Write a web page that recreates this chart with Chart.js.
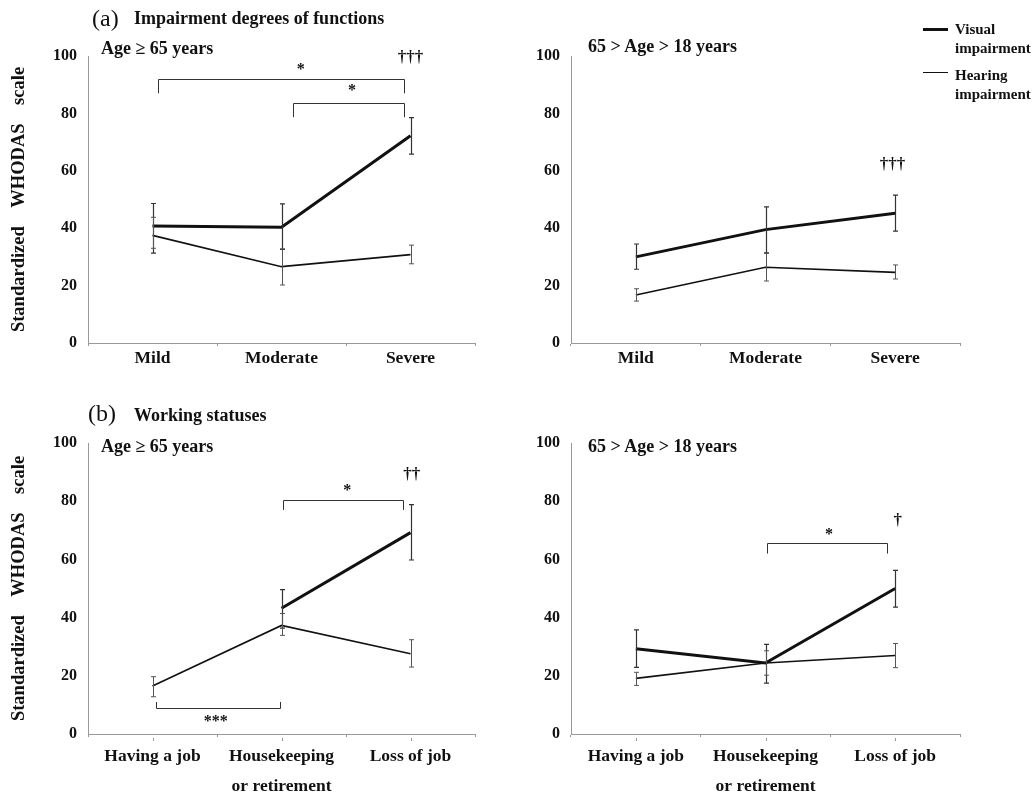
<!DOCTYPE html>
<html>
<head>
<meta charset="utf-8">
<script src="https://cdn.jsdelivr.net/npm/chart.js@4.4.1/dist/chart.umd.min.js"></script>
<style>
body { margin: 0; background: #fff; }
#wrap { position: relative; width: 1034px; height: 798px; overflow: hidden; font-family: "Liberation Serif", "Times New Roman", serif; color: #111; }
canvas { position: absolute; }
.t { position: absolute; white-space: nowrap; font-weight: bold; line-height: 1; }
.leg { position: absolute; left: 923px; width: 25px; background: #111; }
</style>
</head>
<body>
<div id="wrap">
  <canvas id="aOld" width="517" height="390" style="left:0;top:0"></canvas>
  <canvas id="aYoung" width="517" height="390" style="left:517px;top:0"></canvas>
  <canvas id="bOld" width="517" height="408" style="left:0;top:390px"></canvas>
  <canvas id="bYoung" width="517" height="408" style="left:517px;top:390px"></canvas>

  <div class="t" style="left:92px;top:6px;font-size:24px;font-weight:normal">(a)</div>
  <div class="t" style="left:134px;top:9px;font-size:18px">Impairment degrees of functions</div>
  <div class="t" style="left:101px;top:38.5px;font-size:18px">Age ≥ 65 years</div>
  <div class="t" style="left:588px;top:37px;font-size:18px">65 &gt; Age &gt; 18 years</div>

  <div class="t" style="left:88px;top:401px;font-size:24px;font-weight:normal">(b)</div>
  <div class="t" style="left:134px;top:406px;font-size:18px">Working statuses</div>
  <div class="t" style="left:101px;top:437px;font-size:18px">Age ≥ 65 years</div>
  <div class="t" style="left:588px;top:437px;font-size:18px">65 &gt; Age &gt; 18 years</div>

  <div class="leg" style="top:27.5px;height:3px"></div>
  <div class="t" style="left:955px;top:22px;font-size:15px">Visual</div>
  <div class="t" style="left:955px;top:41px;font-size:15px">impairment</div>
  <div class="leg" style="top:71.5px;height:1px"></div>
  <div class="t" style="left:955px;top:68px;font-size:15px">Hearing</div>
  <div class="t" style="left:955px;top:87px;font-size:15px">impairment</div>
</div>

<script>
const degreeLabels = ['Mild', 'Moderate', 'Severe'];
const workLabels = ['Having a job', ['Housekeeping', 'or retirement'], 'Loss of job'];

// (a) age >= 65
const aOldVisual = [40.8, 40.3, 72.2];
const aOldVisualHi = [48.6, 48.5, 78.5];
const aOldVisualLo = [31.3, 32.6, 65.8];
const aOldHearing = [37.5, 26.6, 30.8];
const aOldHearingHi = [43.8, 32.8, 34.1];
const aOldHearingLo = [33.0, 20.2, 27.6];

// (a) 65 > age > 18
const aYoungVisual = [30.0, 39.5, 45.2];
const aYoungVisualHi = [34.5, 47.4, 51.5];
const aYoungVisualLo = [25.7, 31.4, 39.0];
const aYoungHearing = [16.7, 26.4, 24.6];
const aYoungHearingHi = [18.9, 31.2, 27.2];
const aYoungHearingLo = [14.6, 21.6, 22.3];

// (b) age >= 65
const bOldVisual = [null, 43.2, 69.2];
const bOldVisualHi = [null, 49.6, 78.8];
const bOldVisualLo = [null, 36.4, 59.8];
const bOldHearing = [16.5, 37.3, 27.6];
const bOldHearingHi = [19.7, 41.4, 32.4];
const bOldHearingLo = [12.8, 33.9, 23.0];

// (b) 65 > age > 18
const bYoungVisual = [29.3, 24.4, 50.0];
const bYoungVisualHi = [35.8, 30.8, 56.2];
const bYoungVisualLo = [22.9, 17.5, 43.6];
const bYoungHearing = [19.1, 24.4, 27.0];
const bYoungHearingHi = [21.2, 28.6, 31.1];
const bYoungHearingLo = [16.7, 20.2, 22.8];

// significance marks (category index / scale value)
const aOldBrackets = [
  {from: 0.045, to: 1.95, at: 91.9, tip: 87, label: '*', lx: 1.15, ly: 95},
  {from: 1.087, to: 1.95, at: 83.6, tip: 78.7, label: '*', lx: 1.546, ly: 87.7}
];
const aOldNotes = [{text: '†††', at: 2.0, y: 99.4}];
const aYoungBrackets = [];
const aYoungNotes = [{text: '†††', at: 1.98, y: 62.3}];
const bOldBrackets = [
  {from: 1.01, to: 1.94, at: 80.4, tip: 77, label: '*', lx: 1.51, ly: 83.4},
  {from: 0.03, to: 0.99, at: 8.9, tip: 11, label: '***', lx: 0.49, ly: 4.3}
];
const bOldNotes = [{text: '††', at: 2.01, y: 89.2}];
const bYoungBrackets = [
  {from: 1.01, to: 1.94, at: 65.6, tip: 62, label: '*', lx: 1.49, ly: 68.5}
];
const bYoungNotes = [{text: '†', at: 2.02, y: 73.2}];

const FONT = '"Liberation Serif", "Times New Roman", serif';

const marksPlugin = {
  id: 'marks',
  afterDatasetsDraw(chart, args, opts) {
    const {ctx, scales: {x, y}, chartArea} = chart;
    ctx.save();
    // error bars
    chart.data.datasets.forEach(ds => {
      ctx.strokeStyle = ds.errColor;
      ctx.lineWidth = ds.errWidth;
      ds.data.forEach((v, i) => {
        if (v == null) return;
        const px = Math.round(x.getPixelForValue(i)) + 0.5;
        const top = y.getPixelForValue(ds.hi[i]);
        const bot = y.getPixelForValue(ds.lo[i]);
        ctx.beginPath();
        ctx.moveTo(px, top); ctx.lineTo(px, bot);
        ctx.moveTo(px - 2.5, top); ctx.lineTo(px + 2.5, top);
        ctx.moveTo(px - 2.5, bot); ctx.lineTo(px + 2.5, bot);
        ctx.stroke();
      });
    });
    // brackets
    ctx.strokeStyle = '#333';
    ctx.lineWidth = 1;
    ctx.fillStyle = '#111';
    ctx.textAlign = 'center';
    ctx.textBaseline = 'middle';
    (opts.brackets || []).forEach(b => {
      const x0 = Math.round(x.getPixelForValue(b.from)) + 0.5;
      const x1 = Math.round(x.getPixelForValue(b.to)) + 0.5;
      const ya = Math.round(y.getPixelForValue(b.at)) + 0.5;
      const yt = y.getPixelForValue(b.tip);
      ctx.beginPath();
      ctx.moveTo(x0, yt); ctx.lineTo(x0, ya); ctx.lineTo(x1, ya); ctx.lineTo(x1, yt);
      ctx.stroke();
      ctx.font = 'bold 16px ' + FONT;
      ctx.fillText(b.label, x.getPixelForValue(b.lx), y.getPixelForValue(b.ly));
    });
    (opts.notes || []).forEach(n => {
      ctx.font = 'bold 17px ' + FONT;
      ctx.fillText(n.text, x.getPixelForValue(n.at), y.getPixelForValue(n.y));
    });
    // small marks under category centres
    if (opts.centerTicks) {
      ctx.fillStyle = '#999';
      x.ticks.forEach((t, i) => {
        const px = Math.round(x.getPixelForValue(i));
        ctx.fillRect(px, chartArea.bottom + 4, 1, 3);
      });
    }
    ctx.restore();
  }
};

function makePanel(id, labels, series, marks, box) {
  const [vis, visHi, visLo, hear, hearHi, hearLo] = series;
  new Chart(document.getElementById(id), {
    type: 'line',
    data: {
      labels: labels,
      datasets: [
        {label: 'Visual impairment', data: vis, hi: visHi, lo: visLo,
         borderColor: '#111', borderWidth: 3, pointRadius: 0, tension: 0,
         errColor: '#333', errWidth: 1.2},
        {label: 'Hearing impairment', data: hear, hi: hearHi, lo: hearLo,
         borderColor: '#111', borderWidth: 1.6, pointRadius: 0, tension: 0,
         errColor: '#555', errWidth: 1}
      ]
    },
    options: {
      responsive: false,
      animation: false,
      devicePixelRatio: 1,
      layout: {padding: {left: 0, top: box.top, right: box.right, bottom: 0}},
      plugins: {
        legend: {display: false},
        tooltip: {enabled: false},
        marks: marks
      },
      scales: {
        x: {
          type: 'category',
          offset: true,
          grid: {display: true, drawOnChartArea: false, drawTicks: true, tickLength: 3, offset: true, color: '#999'},
          border: {color: '#999', width: 1},
          ticks: {
            color: '#111', padding: box.xPad, maxRotation: 0, autoSkip: false,
            font: {family: FONT, size: 17.5, weight: 'bold', lineHeight: box.xLine}
          },
          afterFit: s => { s.height = box.xHeight; }
        },
        y: {
          min: 0, max: 100,
          grid: {display: false, drawTicks: false},
          border: {color: '#999', width: 1},
          ticks: {stepSize: 20, color: '#111', padding: 11, font: {family: FONT, size: 16, weight: 'bold'}},
          title: {
            display: box.yTitle,
            text: 'Standardized    WHODAS    scale',
            color: '#111',
            padding: {top: 8, bottom: 0},
            font: {family: FONT, size: 18.5, weight: 'bold', lineHeight: 1.2}
          },
          afterFit: s => { s.width = box.yWidth; }
        }
      }
    },
    plugins: [marksPlugin]
  });
}

makePanel('aOld', degreeLabels,
  [aOldVisual, aOldVisualHi, aOldVisualLo, aOldHearing, aOldHearingHi, aOldHearingLo],
  {brackets: aOldBrackets, notes: aOldNotes},
  {top: 56, right: 42, yWidth: 88, xHeight: 47, xPad: 2, xLine: 1.2, yTitle: true});

makePanel('aYoung', degreeLabels,
  [aYoungVisual, aYoungVisualHi, aYoungVisualLo, aYoungHearing, aYoungHearingHi, aYoungHearingLo],
  {brackets: aYoungBrackets, notes: aYoungNotes},
  {top: 56, right: 74, yWidth: 54, xHeight: 47, xPad: 2, xLine: 1.2, yTitle: false});

makePanel('bOld', workLabels,
  [bOldVisual, bOldVisualHi, bOldVisualLo, bOldHearing, bOldHearingHi, bOldHearingLo],
  {brackets: bOldBrackets, notes: bOldNotes, centerTicks: true},
  {top: 53, right: 42, yWidth: 88, xHeight: 64, xPad: 5, xLine: 1.7, yTitle: true});

makePanel('bYoung', workLabels,
  [bYoungVisual, bYoungVisualHi, bYoungVisualLo, bYoungHearing, bYoungHearingHi, bYoungHearingLo],
  {brackets: bYoungBrackets, notes: bYoungNotes, centerTicks: true},
  {top: 53, right: 74, yWidth: 54, xHeight: 64, xPad: 5, xLine: 1.7, yTitle: false});
</script>
</body>
</html>
